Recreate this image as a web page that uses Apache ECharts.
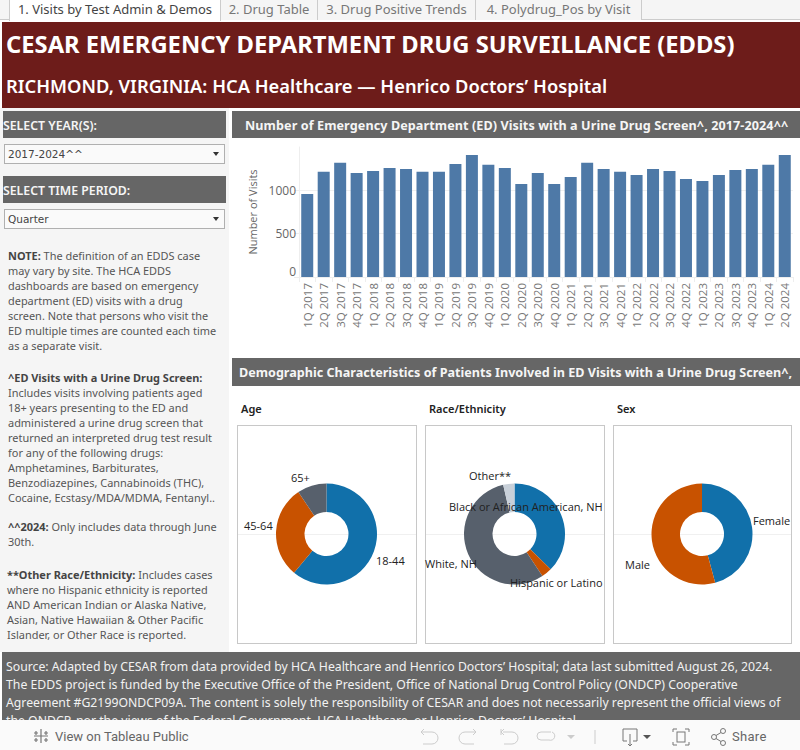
<!DOCTYPE html>
<html><head><meta charset="utf-8">
<script src="https://cdn.jsdelivr.net/npm/echarts@6/dist/echarts.min.js"></script>
<style>
html,body{margin:0;padding:0;background:#fff;width:800px;height:750px;overflow:hidden;font-family:"Noto Sans",sans-serif}
.a{position:absolute;white-space:nowrap;box-sizing:border-box}
.tab{top:0;height:20px;background:#f5f5f5;border-right:1px solid #ccc;color:#777;font-size:13px;line-height:19px;text-align:center}
.hd{background:#666;color:#f5f5f5;font-weight:600;line-height:29px}
.dd{background:#fafafa;border:1px solid #b0b0b0;color:#444;font:10.5px "DejaVu Sans",sans-serif;line-height:18px;padding-left:3px;left:4px;width:221px;height:20px}
.dd:after{content:"";position:absolute;right:5px;top:7px;border-left:3.5px solid transparent;border-right:3.5px solid transparent;border-top:4px solid #333}
#note{left:8px;top:248px;width:222px;color:#555;font-size:10.95px;line-height:15px}
#note b{color:#444}
#note p{margin:0;position:absolute;left:0;white-space:nowrap}
.fr{border:1px solid #c8c8c8;top:425px;height:219px;background:#fff}
.fr i{position:absolute;left:0;right:0;top:108px;height:1px;background:#f0f0f0}
.pt{top:401px;font-size:11px;font-weight:600;color:#222;line-height:15px}
#foot{left:2px;top:652px;width:798px;height:68px;background:#666;color:#f2f2f2;overflow:hidden;font-size:12.25px;line-height:18px;padding:6px 0 0 4px}
#bar{left:0;top:720px;width:800px;height:30px;background:#fafafa;color:#666;font:13px Roboto,sans-serif}
#chart{position:absolute;left:0;top:0;width:800px;height:750px;pointer-events:none}
</style></head><body>
<div class="a" style="left:0;top:0;width:800px;height:20px;background:#f5f5f5;border-bottom:1px solid #ccc"></div>
<div class="a tab" style="left:9px;width:212px;background:#fff;color:#444;border-left:1px solid #ccc;height:21px">1. Visits by Test Admin &amp; Demos</div>
<div class="a tab" style="left:221px;width:97px">2. Drug Table</div>
<div class="a tab" style="left:318px;width:158px">3. Drug Positive Trends</div>
<div class="a tab" style="left:476px;width:166px">4. Polydrug_Pos by Visit</div>
<div class="a" style="left:2px;top:22px;width:798px;height:86px;background:#6d1c1a"></div>
<div class="a" style="left:6px;top:27px;color:#fff;font-size:23.76px;font-weight:700;line-height:34px">CESAR EMERGENCY DEPARTMENT DRUG SURVEILLANCE (EDDS)</div>
<div class="a" style="left:6px;top:72px;color:#fff;font-size:18.32px;font-weight:600;line-height:27px">RICHMOND, VIRGINIA: HCA Healthcare — Henrico Doctors’ Hospital</div>
<div class="a" style="left:0;top:108px;width:229px;height:544px;background:#f5f5f5"></div>
<div class="a hd" style="left:3px;top:111px;width:223px;height:27px;font-size:12.3px">SELECT YEAR(S):</div>
<div class="a dd" style="top:144px">2017-2024^^</div>
<div class="a hd" style="left:3px;top:176px;width:223px;height:27px;font-size:12.3px">SELECT TIME PERIOD:</div>
<div class="a dd" style="top:209px">Quarter</div>
<div id="note" class="a">
<p style="top:0"><b>NOTE:</b> The definition of an EDDS case<br>may vary by site. The HCA EDDS<br>dashboards are based on emergency<br>department (ED) visits with a drug<br>screen. Note that persons who visit the<br>ED multiple times are counted each time<br>as a separate visit.</p>
<p style="top:122px"><b>^ED Visits with a Urine Drug Screen:</b><br>Includes visits involving patients aged<br>18+ years presenting to the ED and<br>administered a urine drug screen that<br>returned an interpreted drug test result<br>for any of the following drugs:<br>Amphetamines, Barbiturates,<br>Benzodiazepines, Cannabinoids (THC),<br>Cocaine, Ecstasy/MDA/MDMA, Fentanyl..</p>
<p style="top:271px"><b>^^2024:</b> Only includes data through June<br>30th.</p>
<p style="top:319px;left:-1px"><b>**Other Race/Ethnicity:</b> Includes cases<br>where no Hispanic ethnicity is reported<br>AND American Indian or Alaska Native,<br>Asian, Native Hawaiian &amp; Other Pacific<br>Islander, or Other Race is reported.</p>
</div>
<div class="a hd" style="left:232px;top:111px;width:568px;height:27px;padding-left:13px;font-size:12.6px;font-weight:700;letter-spacing:.09px">Number of Emergency Department (ED) Visits with a Urine Drug Screen^, 2017-2024^^</div>
<div class="a hd" style="left:232px;top:358px;width:568px;height:28px;padding-left:7px;font-size:12.6px;font-weight:700">Demographic Characteristics of Patients Involved in ED Visits with a Urine Drug Screen^,</div>
<div class="a pt" style="left:241px">Age</div>
<div class="a pt" style="left:429px">Race/Ethnicity</div>
<div class="a pt" style="left:617px">Sex</div>
<div class="a fr" style="left:237px;width:180px"><i></i></div>
<div class="a fr" style="left:425px;width:180px"><i></i></div>
<div class="a fr" style="left:613px;width:179px"><i></i></div>
<div id="foot" class="a">Source: Adapted by CESAR from data provided by HCA Healthcare and Henrico Doctors’ Hospital; data last submitted August 26, 2024.<br>The EDDS project is funded by the Executive Office of the President, Office of National Drug Control Policy (ONDCP) Cooperative<br>Agreement #G2199ONDCP09A. The content is solely the responsibility of CESAR and does not necessarily represent the official views of<br>the ONDCP, nor the views of the Federal Government, HCA Healthcare, or Henrico Doctors’ Hospital.</div>
<div id="bar" class="a">
<span class="a" style="left:55px;top:9px">View on Tableau Public</span>
<span class="a" style="left:732px;top:9px;letter-spacing:.3px">Share</span>
<svg class="a" style="left:0;top:0" width="800" height="30" fill="none" stroke="#777" stroke-width="1">
<g stroke-width="1.2"><path d="M41 9v14M34 16h14M36 11v4M34 13h4M46 11v4M44 13h4M36 18v4M34 20h4M46 18v4M44 20h4"/></g>
<g stroke="#ccc"><path d="M424 9l-3 3 3 3M421 12h11a6 6 0 0 1 0 12h-9"/><path d="M473 9l3 3-3 3M476 12h-11a6 6 0 0 0 0 12h9"/><path d="M501 9v6M504 9l-3 3 3 3M503 12h9a6 6 0 0 1 0 12h-8"/><path d="M551 12h-10a4 4 0 0 0 0 8h8a4 4 0 0 0 3-8"/><path d="M595 10v14"/></g>
<path d="M567 15h8l-4 4z" fill="#ccc" stroke="none"/>
<path d="M627 21h-4V9h14v12h-4M630 14v12M628 24l2 2 2-2"/><path d="M643 15h8l-4 4z" fill="#555" stroke="none"/>
<path d="M673 12V9h4M689 12V9h-4M673 22v3h4M689 22v3h-4"/><rect x="677" y="12" width="8" height="10"/>
<circle cx="714" cy="17" r="2.500"/><circle cx="723" cy="11" r="2.500"/><circle cx="723" cy="23" r="2.500"/><path d="M716 15.500l5-3M716 18.500l5 3"/>
</svg></div>
<div id="chart"></div>
<script>
const quarters = ["1Q 2017","2Q 2017","3Q 2017","4Q 2017","1Q 2018","2Q 2018","3Q 2018","4Q 2018","1Q 2019","2Q 2019","3Q 2019","4Q 2019","1Q 2020","2Q 2020","3Q 2020","4Q 2020","1Q 2021","2Q 2021","3Q 2021","4Q 2021","1Q 2022","2Q 2022","3Q 2022","4Q 2022","1Q 2023","2Q 2023","3Q 2023","4Q 2023","1Q 2024","2Q 2024"];
const visits = [959,1213,1317,1201,1224,1259,1247,1213,1213,1305,1409,1294,1259,1074,1201,1074,1155,1317,1247,1213,1178,1247,1224,1132,1109,1178,1236,1247,1294,1409];
const ageNames = ["18-44","45-64","65+"];
const ageValues = [61.1,29.5,9.4];
const raceNames = ["Black or African American, NH","Hispanic or Latino","White, NH","Other**"];
const raceValues = [37.3,3.4,55.7,3.6];
const sexNames = ["Female","Male"];
const sexValues = [45.8,54.2];
const pieColors = ["#1170aa","#c85200","#57606c","#c8d0d9"];
const F = '"Open Sans",sans-serif';

const labelSpots = {
  "18-44":[376,560],"45-64":[244,525],"65+":[291,477],
  "Black or African American, NH":[449,506],"Hispanic or Latino":[510,582],"White, NH":[425,563],"Other**":[469,475],
  "Female":[753,520],"Male":[625,564]
};
function pie(names, values, cx){
  return {type:'pie',center:[cx,534],radius:[22,50.5],startAngle:90,clockwise:true,silent:true,
    avoidLabelOverlap:false,
    label:{show:true,position:'outside',fontFamily:F,fontSize:11,color:'#222'},
    labelLine:{show:false},
    labelLayout:p=>{const s=labelSpots[names[p.dataIndex]];return {x:s[0],y:s[1],align:'left',verticalAlign:'middle',hideOverlap:false};},
    data:names.map((n,i)=>({name:n,value:values[i],itemStyle:{color:pieColors[i],borderWidth:0}}))};
}
const chart = echarts.init(document.getElementById('chart'),null,{renderer:'svg',width:800,height:750});
chart.setOption({
  animation:false,backgroundColor:'transparent',
  grid:{left:299,top:147,width:494,height:130},
  xAxis:{type:'category',data:quarters,
    axisLine:{show:true,lineStyle:{color:'#eeeeee'}},
    axisTick:{show:true,alignWithLabel:false,length:5,lineStyle:{color:'#eeeeee'}},
    axisLabel:{rotate:90,interval:0,fontFamily:F,fontSize:11.5,color:'#777',margin:6}},
  yAxis:{type:'value',min:0,max:1500,interval:500,
    name:'Number of Visits',nameLocation:'middle',nameGap:41,
    nameTextStyle:{fontFamily:F,fontSize:11,color:'#666'},
    axisLine:{show:true,lineStyle:{color:'#eeeeee'}},
    axisTick:{show:true,length:5,lineStyle:{color:'#eeeeee'}},
    axisLabel:{showMaxLabel:false,verticalAlignMinLabel:'bottom',formatter:v=>String(v),fontFamily:F,fontSize:12,color:'#666',margin:3},
    splitLine:{show:true,showMaxLine:false,lineStyle:{color:'#f0f0f0'}}},
  series:[
    {type:'bar',data:visits,barWidth:12,itemStyle:{color:'#4e79a7'},silent:true},
    pie(ageNames,ageValues,326.5),
    pie(raceNames,raceValues,514.5),
    pie(sexNames,sexValues,702)
  ]
});
</script>
</body></html>
